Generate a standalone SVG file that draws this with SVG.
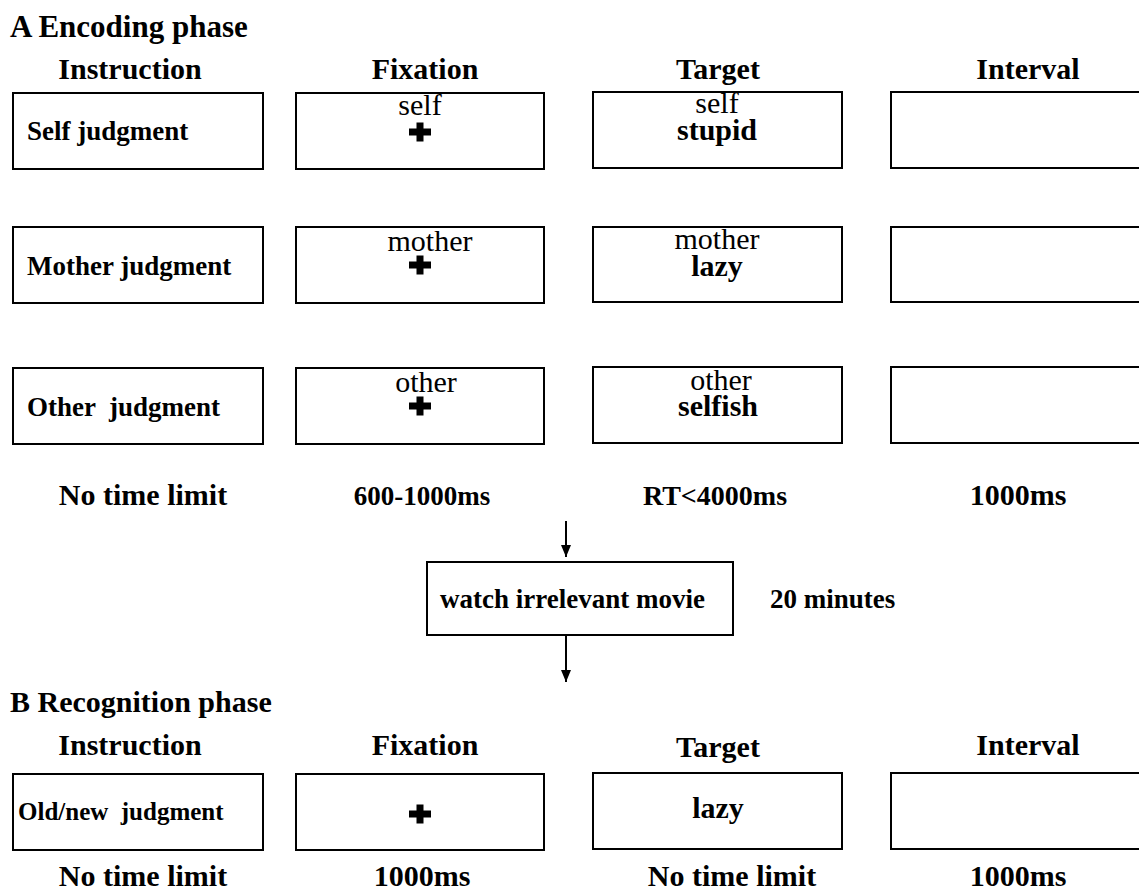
<svg xmlns="http://www.w3.org/2000/svg" xmlns:xlink="http://www.w3.org/1999/xlink" width="1139" height="891" viewBox="0 0 1139 891">
  <style>
    .box { fill: #fff; stroke: #000; stroke-width: 2; }
    .hd { font-family: "Liberation Serif", "Times New Roman", serif; font-weight: bold; font-size: 30px; fill: #000; }
    .mid { text-anchor: middle; }
    .ins { font-family: "Liberation Serif", "Times New Roman", serif; font-weight: bold; font-size: 27px; fill: #000; white-space: pre; }
    .cue { font-family: "Liberation Serif", "Times New Roman", serif; font-size: 30px; fill: #000; text-anchor: middle; }
    .word { font-family: "Liberation Serif", "Times New Roman", serif; font-weight: bold; font-size: 30px; fill: #000; text-anchor: middle; }
    .conn { stroke: #000; stroke-width: 2; fill: none; }
  </style>
  <defs>
    <path id="cross" d="M-11,-3.5 H-3.5 V-9.5 H3.5 V-3.5 H11 V3.5 H3.5 V9.5 H-3.5 V3.5 H-11 Z" fill="#000"/>
    <marker id="arrow" viewBox="0 0 12 10" refX="12" refY="5" markerWidth="12" markerHeight="10" markerUnits="userSpaceOnUse" orient="auto">
      <path d="M0,0 L12,5 L0,10 Z" fill="#000"/>
    </marker>
  </defs>
  <rect width="1139" height="891" fill="#fff"/>

  <!-- Section A: encoding -->
  <g id="encoding-titles">
    <text class="hd" x="10" y="37" style="font-size:31px">A Encoding phase</text>
    <text class="hd mid" x="130" y="79">Instruction</text>
    <text class="hd mid" x="425" y="79">Fixation</text>
    <text class="hd mid" x="718" y="79">Target</text>
    <text class="hd mid" x="1028" y="79">Interval</text>
  </g>

  <g id="a-self-instruction">
    <rect class="box" x="13" y="93" width="250" height="76"/>
    <text class="ins" x="27" y="140">Self judgment</text>
  </g>
  <g id="a-self-fixation">
    <rect class="box" x="296" y="93" width="248" height="76"/>
    <text class="cue" x="420" y="115">self</text>
    <use xlink:href="#cross" x="420" y="132"/>
  </g>
  <g id="a-self-target">
    <rect class="box" x="593" y="92" width="249" height="76"/>
    <text class="cue" x="717" y="113">self</text>
    <text class="word" x="717" y="140">stupid</text>
  </g>
  <g id="a-self-interval">
    <rect class="box" x="891" y="92" width="260" height="76"/>
  </g>

  <g id="a-mother-instruction">
    <rect class="box" x="13" y="227" width="250" height="76"/>
    <text class="ins" x="27" y="275">Mother judgment</text>
  </g>
  <g id="a-mother-fixation">
    <rect class="box" x="296" y="227" width="248" height="76"/>
    <text class="cue" x="430" y="251">mother</text>
    <use xlink:href="#cross" x="420" y="265"/>
  </g>
  <g id="a-mother-target">
    <rect class="box" x="593" y="227" width="249" height="75"/>
    <text class="cue" x="717" y="249">mother</text>
    <text class="word" x="717" y="276">lazy</text>
  </g>
  <g id="a-mother-interval">
    <rect class="box" x="891" y="227" width="260" height="75"/>
  </g>

  <g id="a-other-instruction">
    <rect class="box" x="13" y="368" width="250" height="76"/>
    <text class="ins" x="27" y="416">Other  judgment</text>
  </g>
  <g id="a-other-fixation">
    <rect class="box" x="296" y="368" width="248" height="76"/>
    <text class="cue" x="426" y="392">other</text>
    <use xlink:href="#cross" x="420" y="406"/>
  </g>
  <g id="a-other-target">
    <rect class="box" x="593" y="367" width="249" height="76"/>
    <text class="cue" x="721" y="390">other</text>
    <text class="word" x="718" y="416">selfish</text>
  </g>
  <g id="a-other-interval">
    <rect class="box" x="891" y="367" width="260" height="76"/>
  </g>

  <g id="encoding-durations">
    <text class="hd mid" x="143" y="505">No time limit</text>
    <text class="hd mid" x="422" y="505" style="font-size:27px">600-1000ms</text>
    <text class="hd mid" x="715" y="505" style="font-size:28px">RT&lt;4000ms</text>
    <text class="hd mid" x="1018" y="505">1000ms</text>
  </g>

  <!-- Delay between phases -->
  <g id="delay">
    <rect class="box" x="427" y="562" width="306" height="73"/>
    <text class="ins" x="440" y="608">watch irrelevant movie</text>
    <text class="ins" x="770" y="608">20 minutes</text>
  </g>

  <g id="connectors">
    <line class="conn" x1="566" y1="521" x2="566" y2="557" marker-end="url(#arrow)"/>
    <line class="conn" x1="566" y1="636" x2="566" y2="682" marker-end="url(#arrow)"/>
  </g>

  <!-- Section B: recognition -->
  <g id="recognition-titles">
    <text class="hd" x="10" y="712">B Recognition phase</text>
    <text class="hd mid" x="130" y="755">Instruction</text>
    <text class="hd mid" x="425" y="755">Fixation</text>
    <text class="hd mid" x="718" y="757">Target</text>
    <text class="hd mid" x="1028" y="755">Interval</text>
  </g>

  <g id="b-instruction">
    <rect class="box" x="13" y="774" width="250" height="76"/>
    <text class="ins" x="18" y="820" style="font-size:25px">Old/new  judgment</text>
  </g>
  <g id="b-fixation">
    <rect class="box" x="296" y="774" width="248" height="76"/>
    <use xlink:href="#cross" x="420" y="814"/>
  </g>
  <g id="b-target">
    <rect class="box" x="593" y="773" width="249" height="76"/>
    <text class="word" x="718" y="818">lazy</text>
  </g>
  <g id="b-interval">
    <rect class="box" x="891" y="773" width="260" height="76"/>
  </g>

  <g id="recognition-durations">
    <text class="hd mid" x="143" y="886">No time limit</text>
    <text class="hd mid" x="422" y="886">1000ms</text>
    <text class="hd mid" x="732" y="886">No time limit</text>
    <text class="hd mid" x="1018" y="886">1000ms</text>
  </g>
</svg>
